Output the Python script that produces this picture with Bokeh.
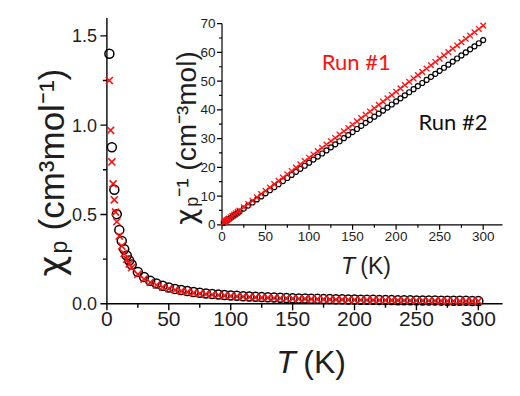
import math
from bokeh.plotting import figure
from bokeh.models import Range1d, Label
from bokeh.embed import file_html
from bokeh.resources import INLINE
from bokeh.core.properties import value

# ---------------- data ----------------
T_run1 = [2, 3, 4, 5, 6, 7, 8, 10, 12, 14, 16, 18, 20,
          25, 30, 35, 40, 45, 50, 55, 60, 65, 70, 75, 80, 85, 90, 95, 100,
          105, 110, 115, 120, 125, 130, 135, 140, 145, 150, 155, 160, 165, 170,
          175, 180, 185, 190, 195, 200, 205, 210, 215, 220, 225, 230, 235, 240,
          245, 250, 255, 260, 265, 270, 275, 280, 285, 290, 295, 300]
chi_run1 = [1.250, 0.971, 0.794, 0.671, 0.582, 0.513, 0.459, 0.379, 0.323, 0.281, 0.249, 0.223, 0.2025,
            0.16427, 0.13818, 0.11924, 0.10487, 0.09359, 0.08450, 0.07702, 0.07075, 0.06543, 0.06086,
            0.05688, 0.05339, 0.05030, 0.04755, 0.04509, 0.042866,
            0.040853, 0.039021, 0.037345, 0.035808, 0.034393, 0.033085, 0.031873, 0.030746, 0.029697,
            0.028717, 0.027799, 0.026938, 0.026129, 0.025367, 0.024649, 0.023970, 0.023327, 0.022718,
            0.022140, 0.021590, 0.021067, 0.020569, 0.020094, 0.019641, 0.019207, 0.018792, 0.018395,
            0.018014, 0.017649, 0.017298, 0.016960, 0.016636, 0.016324, 0.016023, 0.015733, 0.015454,
            0.015184, 0.014924, 0.014672, 0.014429]

T_run2 = [2, 4, 6, 8, 10, 12, 14, 16, 18, 20,
          25, 30, 35, 40, 45, 50, 55, 60, 65, 70, 75, 80, 85, 90, 95, 100,
          105, 110, 115, 120, 125, 130, 135, 140, 145, 150, 155, 160, 165, 170,
          175, 180, 185, 190, 195, 200, 205, 210, 215, 220, 225, 230, 235, 240,
          245, 250, 255, 260, 265, 270, 275, 280, 285, 290, 295, 300]
chi_run2 = [1.4000, 0.8766, 0.6381, 0.5016, 0.4132, 0.3513, 0.3055, 0.2703, 0.2424, 0.2197,
            0.17799, 0.14960, 0.12902, 0.11342, 0.10119, 0.09133, 0.08323, 0.07645, 0.07069, 0.06573,
            0.06143, 0.05765, 0.05431, 0.05134, 0.04868, 0.04628,
            0.04410, 0.04212, 0.04031, 0.03865, 0.03712, 0.03571, 0.03440, 0.03318, 0.03205, 0.03099,
            0.03000, 0.02907, 0.02819, 0.02737, 0.02659, 0.02586, 0.02517, 0.02451, 0.02389, 0.02329,
            0.02273, 0.02219, 0.02168, 0.02119, 0.02072, 0.02027, 0.01984, 0.01943, 0.01904, 0.01866,
            0.01830, 0.01795, 0.01761, 0.01728, 0.01697, 0.01667, 0.01638, 0.01610, 0.01583, 0.01556]

# inverse susceptibility shown in the inset (same measurements)
inv_run1 = [1.0 / c for c in chi_run1]
inv_run2 = [1.0 / c for c in chi_run2]

main_xticks = [0, 50, 100, 150, 200, 250, 300]
main_xtick_labels = ["0", "50", "100", "150", "200", "250", "300"]
main_xminor = [25, 75, 125, 175, 225, 275]
main_yticks = [0.0, 0.5, 1.0, 1.5]
main_ytick_labels = ["0.0", "0.5", "1.0", "1.5"]
main_yminor = [0.25, 0.75, 1.25]

inset_xticks = [0, 50, 100, 150, 200, 250, 300]
inset_xtick_labels = ["0", "50", "100", "150", "200", "250", "300"]
inset_xminor = [25, 75, 125, 175, 225, 275]
inset_yticks = [0, 10, 20, 30, 40, 50, 60, 70]
inset_ytick_labels = ["0", "10", "20", "30", "40", "50", "60", "70"]
inset_yminor = [5, 15, 25, 35, 45, 55, 65]

series1_name = "Run #1"
series2_name = "Run #2"

# ---------------- layout ----------------
W, H = 504, 380
FONT = "Liberation Sans"
CHI_FONT = "DejaVu Sans"
TXT = "#1e1e1e"
RED = "#ff1010"


def fx(rx):  # reference-picture x -> canvas x
    return rx * 503 / 520.0


def fy(ry):  # reference-picture y -> canvas y
    return 1.5 + 0.94 * ry


# main plot placement: x=0 at ref 110, x=300 at ref 494; y=0 at ref 321, y=1.5 at ref 36
mx0, mx1 = fx(110), fx(494)
kmx = (mx1 - mx0) / (main_xticks[-1] - main_xticks[0])
my0, my1 = fy(321), fy(36)
kmy = (my0 - my1) / (main_yticks[-1] - main_yticks[0])
main_x_end = (fx(519) - mx0) / kmx
main_y_end = (my0 - fy(17)) / kmy

p = figure(width=W, height=H,
           x_range=Range1d(-mx0 / kmx, (W - mx0) / kmx),
           y_range=Range1d(-(H - my0) / kmy, my0 / kmy),
           output_backend="svg", toolbar_location=None,
           min_border=0, x_axis_location=None, y_axis_location=None)
p.outline_line_color = None
p.grid.visible = False
p.background_fill_color = "white"
p.border_fill_color = "white"


def dx(px):  # canvas x -> main data x
    return (px - mx0) / kmx


def dy(py):  # canvas y -> main data y
    return (my0 - py) / kmy


# inset placement: x=0 at ref 229, 300 at ref 499; y=0 at ref 237, 70 at ref 23
ia, ib = fx(229), fx(499)
kix = (ib - ia) / (inset_xticks[-1] - inset_xticks[0])
ic, idd = fy(237), fy(23)
kiy = (ic - idd) / (inset_yticks[-1] - inset_yticks[0])
p.extra_x_ranges = {"ix": Range1d(-ia / kix, (W - ia) / kix)}
p.extra_y_ranges = {"iy": Range1d(-(H - ic) / kiy, ic / kiy)}
RN = dict(x_range_name="ix", y_range_name="iy")
inset_x_end = (fx(519) - ia) / kix


def axes(xticks, xminor, xlabels, yticks, ylabels, yminor, kx, ky, x_end, y_end,
         tmaj, tmin, xfont, yfont, xgap, ygap, lw, **rn):
    n, m = len(xticks), len(yticks)
    p.segment(x0=[0, 0], y0=[0, 0], x1=[x_end, 0], y1=[0, y_end],
              line_color="black", line_width=lw, **rn)
    p.segment(x0=xticks, y0=[0] * n, x1=xticks, y1=[-tmaj / ky] * n,
              line_color="black", line_width=lw, **rn)
    p.segment(x0=xminor, y0=[0] * len(xminor), x1=xminor, y1=[-tmin / ky] * len(xminor),
              line_color="black", line_width=lw, **rn)
    p.segment(x0=[0] * m, y0=yticks, x1=[-tmaj / kx] * m, y1=yticks,
              line_color="black", line_width=lw, **rn)
    p.segment(x0=[0] * len(yminor), y0=yminor, x1=[-tmin / kx] * len(yminor), y1=yminor,
              line_color="black", line_width=lw, **rn)
    p.text(x=xticks, y=[-xgap / ky] * n, text=xlabels, text_align="center",
           text_baseline="top", text_font=value(FONT), text_font_size=xfont,
           text_color=TXT, **rn)
    p.text(x=[-ygap / kx] * m, y=yticks, text=ylabels, text_align="right",
           text_baseline="middle", text_font=value(FONT), text_font_size=yfont,
           text_color=TXT, **rn)


# main axes
axes(main_xticks, main_xminor, main_xtick_labels, main_yticks, main_ytick_labels,
     main_yminor, kmx, kmy, main_x_end, main_y_end, 6.5, 4, "21px", "18px", 8, 10, 1.4)
# inset axes
axes(inset_xticks, inset_xminor, inset_xtick_labels, inset_yticks, inset_ytick_labels,
     inset_yminor, kix, kiy, inset_x_end, inset_yticks[-1], 5, 3, "13.5px", "13.5px", 7, 6.5,
     1.2, **RN)

# ---------------- data marks ----------------
p.scatter(T_run2, chi_run2, marker="circle", size=9, fill_color=None,
          line_color="black", line_width=1.5)
p.scatter(T_run1, chi_run1, marker="x", size=10, line_color=RED, line_width=1.6)

p.scatter(T_run2, inv_run2, marker="circle", size=5, fill_color=None,
          line_color="black", line_width=1.2, **RN)
p.scatter(T_run1, inv_run1, marker="x", size=8, line_color=RED, line_width=1.3, **RN)


# ---------------- text ----------------
def label(px, py, text, size, color=TXT, font=FONT, style="normal", angle=0.0):
    p.add_layout(Label(x=dx(px), y=dy(py), text=text, text_font=font,
                       text_font_size=f"{size}px", text_font_style=style,
                       text_color=color, angle=angle, text_align="left",
                       text_baseline="alphabetic"))


def vlabel(base_x, start_y, pieces):
    # pieces: (text, font, size, offset along the text, offset across the baseline)
    for text, font, size, u, shift in pieces:
        label(base_x + shift, start_y - u, text, size, font=font, angle=math.pi / 2)


# main axis titles
label(fx(285), 361, "T", 32, style="italic")
label(fx(313), 361, "(K)", 32)
vlabel(fx(53), fy(292), [("χ", CHI_FONT, 36, 0, 0),
                         ("p", FONT, 23, 23, 7),
                         ("(cm³mol⁻¹)", FONT, 35, 46, 0)])

# inset axis titles
label(fx(352), fy(281), "T", 23, style="italic")
label(fx(372), fy(281), "(K)", 23)
vlabel(fx(192), fy(237), [("χ", CHI_FONT, 28, 0, 0),
                          ("p", FONT, 18, 18, 6),
                          ("⁻¹ (cm⁻³mol)", FONT, 28, 28, 0)])

# series labels
label(fx(332), fy(63), series1_name, 22, color=RED, font="Lato")
label(fx(432), fy(127), series2_name, 22, color="#111111", font="Lato")

open("out.html", "w").write(file_html(p, INLINE))
